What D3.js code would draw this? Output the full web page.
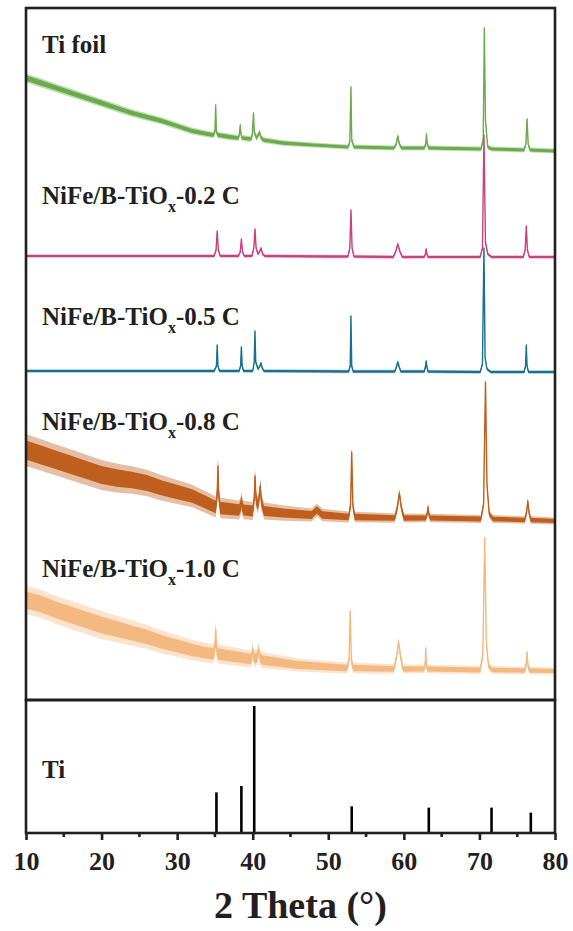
<!DOCTYPE html>
<html>
<head>
<meta charset="utf-8">
<style>
body { margin: 0; background: #fff; }
text { font-family: "Liberation Serif", "Times New Roman", serif; font-weight: bold; fill: #231f20; }
.frame { fill: none; stroke: #231f20; stroke-width: 2.6px; }
.trace { fill: none; stroke-width: 1.4px; stroke-linejoin: round; }
.stick { stroke: #000; stroke-width: 2.6px; }
</style>
</head>
<body>
<script src="https://cdn.jsdelivr.net/npm/d3@7/dist/d3.min.js"></script>
<script>

// 2 theta ticks
var majorTicks = [10, 20, 30, 40, 50, 60, 70, 80];
var minorTicks = [15, 25, 35, 45, 55, 65, 75];

// sample names (top to bottom)
var sampleNames = ["Ti foil", "0.2 C", "0.5 C", "0.8 C", "1.0 C"];

// traces: [2 theta, intensity (a.u., offset included)]
var tiFoil = [
  [10,622],[12,617],[14,612],[16,607],[18,602],[20,597],[22,592],[24,587],[26,583],[28,579],[30,574],[32,569],[34,566],
  [34.8,565],[35.0,568],[35.1,595],[35.2,568],[35.4,565],
  [37,563],[38.1,562],[38.25,566],[38.35,575],[38.45,566],[38.6,562],
  [39.8,561],[39.95,566],[40.1,587],[40.2,568],[40.5,562],[40.8,566],[40.9,568],[41.05,563],[41.4,560],
  [44,557],[48,555],[52.6,553],[52.85,558],[53.0,613],[53.1,560],[53.4,553],
  [58.7,552],[59.0,556],[59.2,564],[59.4,556],[59.7,552],
  [62.7,552],[62.9,556],[63.0,566],[63.1,556],[63.3,552],
  [70.2,551],[70.5,560],[70.65,672],[70.8,580],[71.1,553],[71.6,551],
  [75.9,550],[76.15,556],[76.3,581],[76.45,556],[76.7,550],
  [80,549]
];
var c02 = [
  [10,444],[20,444],[30,444],[34.9,444],[35.15,450],[35.3,469],[35.45,450],[35.7,444],
  [38.1,444],[38.35,448],[38.5,461],[38.65,448],[38.9,444],
  [39.9,444],[40.15,452],[40.3,471],[40.45,452],[40.7,446],[40.95,449],[41.1,452],[41.3,446],[41.6,444],
  [50,443.5],[52.6,443.5],[52.85,452],[53.0,490],[53.15,452],[53.4,443.5],
  [58.6,443],[58.95,449],[59.2,456],[59.45,449],[59.8,443],
  [62.7,443],[62.85,446],[62.95,451],[63.05,446],[63.2,443],
  [70.1,443],[70.4,452],[70.6,565],[70.8,458],[71.1,446],[71.6,443],
  [75.8,443],[76.05,450],[76.2,474],[76.35,450],[76.6,443],
  [80,443]
];
var c05 = [
  [10,329],[30,329],[34.9,329],[35.2,334],[35.3,355],[35.4,334],[35.6,329],
  [38.2,329],[38.4,334],[38.5,353],[38.6,334],[38.8,329],
  [40.0,329],[40.2,338],[40.3,369],[40.4,338],[40.7,331],[40.95,334],[41.1,337],[41.25,332],[41.5,329],
  [52.7,328.5],[52.9,334],[53.0,384],[53.1,334],[53.3,328.5],
  [58.8,328.5],[59.05,334],[59.2,338],[59.35,334],[59.6,328.5],
  [62.7,328.5],[62.85,333],[62.95,339],[63.05,333],[63.2,328.5],
  [70.1,328],[70.4,336],[70.6,452],[70.75,342],[71.0,331],[71.5,328],
  [75.9,328],[76.1,334],[76.2,355],[76.3,334],[76.5,328],
  [80,328]
];
var c08 = [
  [10,250],[12,245],[14,240],[16,235],[18,230],[20,225],[22,222],[24,220],[26,217],[28,212],[30,208],[32,204],[34,197],
  [35.1,193],[35.3,205],[35.4,234],[35.5,205],[35.7,192],
  [38.2,190],[38.4,194],[38.5,199],[38.6,194],[38.8,190],
  [40.0,189],[40.2,200],[40.3,224],[40.45,200],[40.7,195],[40.9,205],[41.0,214],[41.15,198],[41.5,189],
  [44,187],[47.8,185],[48.2,188],[48.5,190],[48.8,188],[49.2,185],
  [52.7,183],[52.95,195],[53.1,248],[53.25,195],[53.5,183],
  [58.8,182],[59.15,193],[59.4,207],[59.65,193],[60.0,182],
  [62.9,182],[63.1,186],[63.2,193],[63.3,186],[63.5,182],
  [70.2,181],[70.55,196],[70.8,318],[71.0,215],[71.3,186],[71.8,181],
  [76.0,180],[76.25,188],[76.4,199],[76.55,188],[76.8,180],
  [80,179]
];
var c10 = [
  [10,100],[12,96],[14,90],[16,85],[18,80],[20,75],[22,71],[24,67],[26,63],[28,58],[30,54],[32,50],[34,47],
  [34.8,46],[35.0,52],[35.1,71],[35.2,52],[35.4,46],
  [39.7,41],[39.9,44],[40.0,50],[40.1,44],[40.3,41],[40.6,43],[40.8,50],[40.95,43],[41.2,40],
  [46,35],[52.5,32],[52.75,40],[52.9,89],[53.05,40],[53.3,32],
  [58.7,31],[59.05,44],[59.3,58],[59.55,44],[59.9,31],
  [62.7,31],[62.85,38],[62.9,52],[62.95,38],[63.1,31],
  [70.1,30],[70.45,44],[70.7,162],[70.9,60],[71.2,34],[71.7,30],
  [76.0,29.5],[76.2,36],[76.3,48],[76.4,36],[76.6,29.5],
  [80,29]
];

// half-width of the noise band of each trace (spike tips): [2 theta, a.u.]
var noiseTiFoil = [[10,4.5],[30,3.5],[50,2.5],[80,2.5]];
var noise02 = [[10,1.8],[80,1.8]];
var noise05 = [[10,1.8],[80,1.8]];
var noise08 = [[10,16],[20,15],[27,13],[33,11],[40,9],[46,7],[52,5.5],[60,4.5],[70,4],[80,3.5]];
var noise10 = [[10,14],[20,14],[26,12],[33,10],[40,8.5],[46,6.5],[52,5.5],[60,4.5],[70,4],[80,3.5]];

// Ti reference pattern
var tiRefPos = [35.2, 38.5, 40.2, 53.1, 63.3, 71.6, 76.8];
var tiRefInt = [32, 37, 100, 21, 20, 20, 16];

var colors = ["#6aab4c", "#c9417e", "#17708f", "#bf5f1e", "#f4b981"];
var labelBaselines = [53, 204, 325, 430, 577];

var width = 573, height = 931;

var svg = d3.select("body").append("svg")
    .attr("width", width)
    .attr("height", height);

var x = d3.scaleLinear().domain([10, 80]).range([26, 555]);
var yTop = d3.scaleLinear().domain([0, 692]).range([700, 8]);
var yBot = d3.scaleLinear().domain([0, 100]).range([833, 706]);

var series = [
  {data: tiFoil, noise: noiseTiFoil},
  {data: c02, noise: noise02},
  {data: c05, noise: noise05},
  {data: c08, noise: noise08},
  {data: c10, noise: noise10}
];

svg.append("clipPath").attr("id", "clip")
  .append("rect")
    .attr("x", x(10)).attr("y", yTop(692))
    .attr("width", x(80) - x(10)).attr("height", yTop(0) - yTop(692));

var plot = svg.append("g").attr("clip-path", "url(#clip)");

function bandPath(amp, k) {
  return d3.area()
      .x(function(d) { return x(d[0]); })
      .y0(function(d) { return yTop(d[1] - k * amp(d[0])); })
      .y1(function(d) { return yTop(d[1] + k * amp(d[0])); });
}

series.forEach(function(s, i) {
  var amp = d3.scaleLinear()
      .domain(s.noise.map(function(d) { return d[0]; }))
      .range(s.noise.map(function(d) { return d[1]; }));

  var line = d3.line()
      .x(function(d) { return x(d[0]); })
      .y(function(d) { return yTop(d[1]); });

  // spiky outer part of the noise, then the dense core
  plot.append("path")
      .datum(s.data)
      .attr("d", bandPath(amp, 1))
      .style("fill", colors[i])
      .style("opacity", 0.4);

  plot.append("path")
      .datum(s.data)
      .attr("d", bandPath(amp, 0.6))
      .style("fill", colors[i]);

  plot.append("path")
      .datum(s.data)
      .attr("class", "trace")
      .attr("d", line)
      .style("stroke", colors[i]);
});

// sample labels
sampleNames.forEach(function(name, i) {
  var t = svg.append("text")
      .attr("x", 42)
      .attr("y", labelBaselines[i])
      .style("font-size", "25px");
  if (i == 0) {
    t.text(name);
  } else {
    t.append("tspan").text("NiFe/B-TiO");
    t.append("tspan").text("x").style("font-size", "16px").attr("dy", 8);
    t.append("tspan").text("-" + name).attr("dy", -8);
  }
});

// Ti reference sticks
svg.append("g")
  .selectAll("line")
  .data(tiRefPos)
  .enter().append("line")
    .attr("class", "stick")
    .attr("x1", function(d) { return x(d); })
    .attr("x2", function(d) { return x(d); })
    .attr("y1", yBot(0))
    .attr("y2", function(d, i) { return yBot(tiRefInt[i]); });

svg.append("text")
    .attr("x", 42)
    .attr("y", 778)
    .style("font-size", "25px")
    .text("Ti");

// frames
svg.append("rect").attr("class", "frame")
    .attr("x", x(10)).attr("y", yTop(692))
    .attr("width", x(80) - x(10)).attr("height", yTop(0) - yTop(692));
svg.append("rect").attr("class", "frame")
    .attr("x", x(10)).attr("y", yTop(0))
    .attr("width", x(80) - x(10)).attr("height", yBot(0) - yTop(0));

// x axis
var axis = svg.append("g")
    .attr("transform", "translate(0," + yBot(0) + ")")
    .call(d3.axisBottom(x).tickValues(majorTicks).tickSize(7).tickFormat(d3.format("d")));
axis.select(".domain").remove();
axis.selectAll("line").style("stroke", "#231f20").style("stroke-width", "2.6px");
axis.selectAll("text")
    .attr("y", 37).attr("dy", 0)
    .style("font-size", "26px")
    .style("fill", "#231f20");

svg.append("g")
    .attr("transform", "translate(0," + yBot(0) + ")")
  .selectAll("line")
  .data(minorTicks)
  .enter().append("line")
    .attr("x1", function(d) { return x(d); })
    .attr("x2", function(d) { return x(d); })
    .attr("y1", 0).attr("y2", 4)
    .style("stroke", "#231f20").style("stroke-width", "2.6px");

svg.append("text")
    .attr("x", x(45) + 10)
    .attr("y", 918)
    .attr("text-anchor", "middle")
    .style("font-size", "38px")
    .text("2 Theta (\u00b0)");

</script>
</body>
</html>
